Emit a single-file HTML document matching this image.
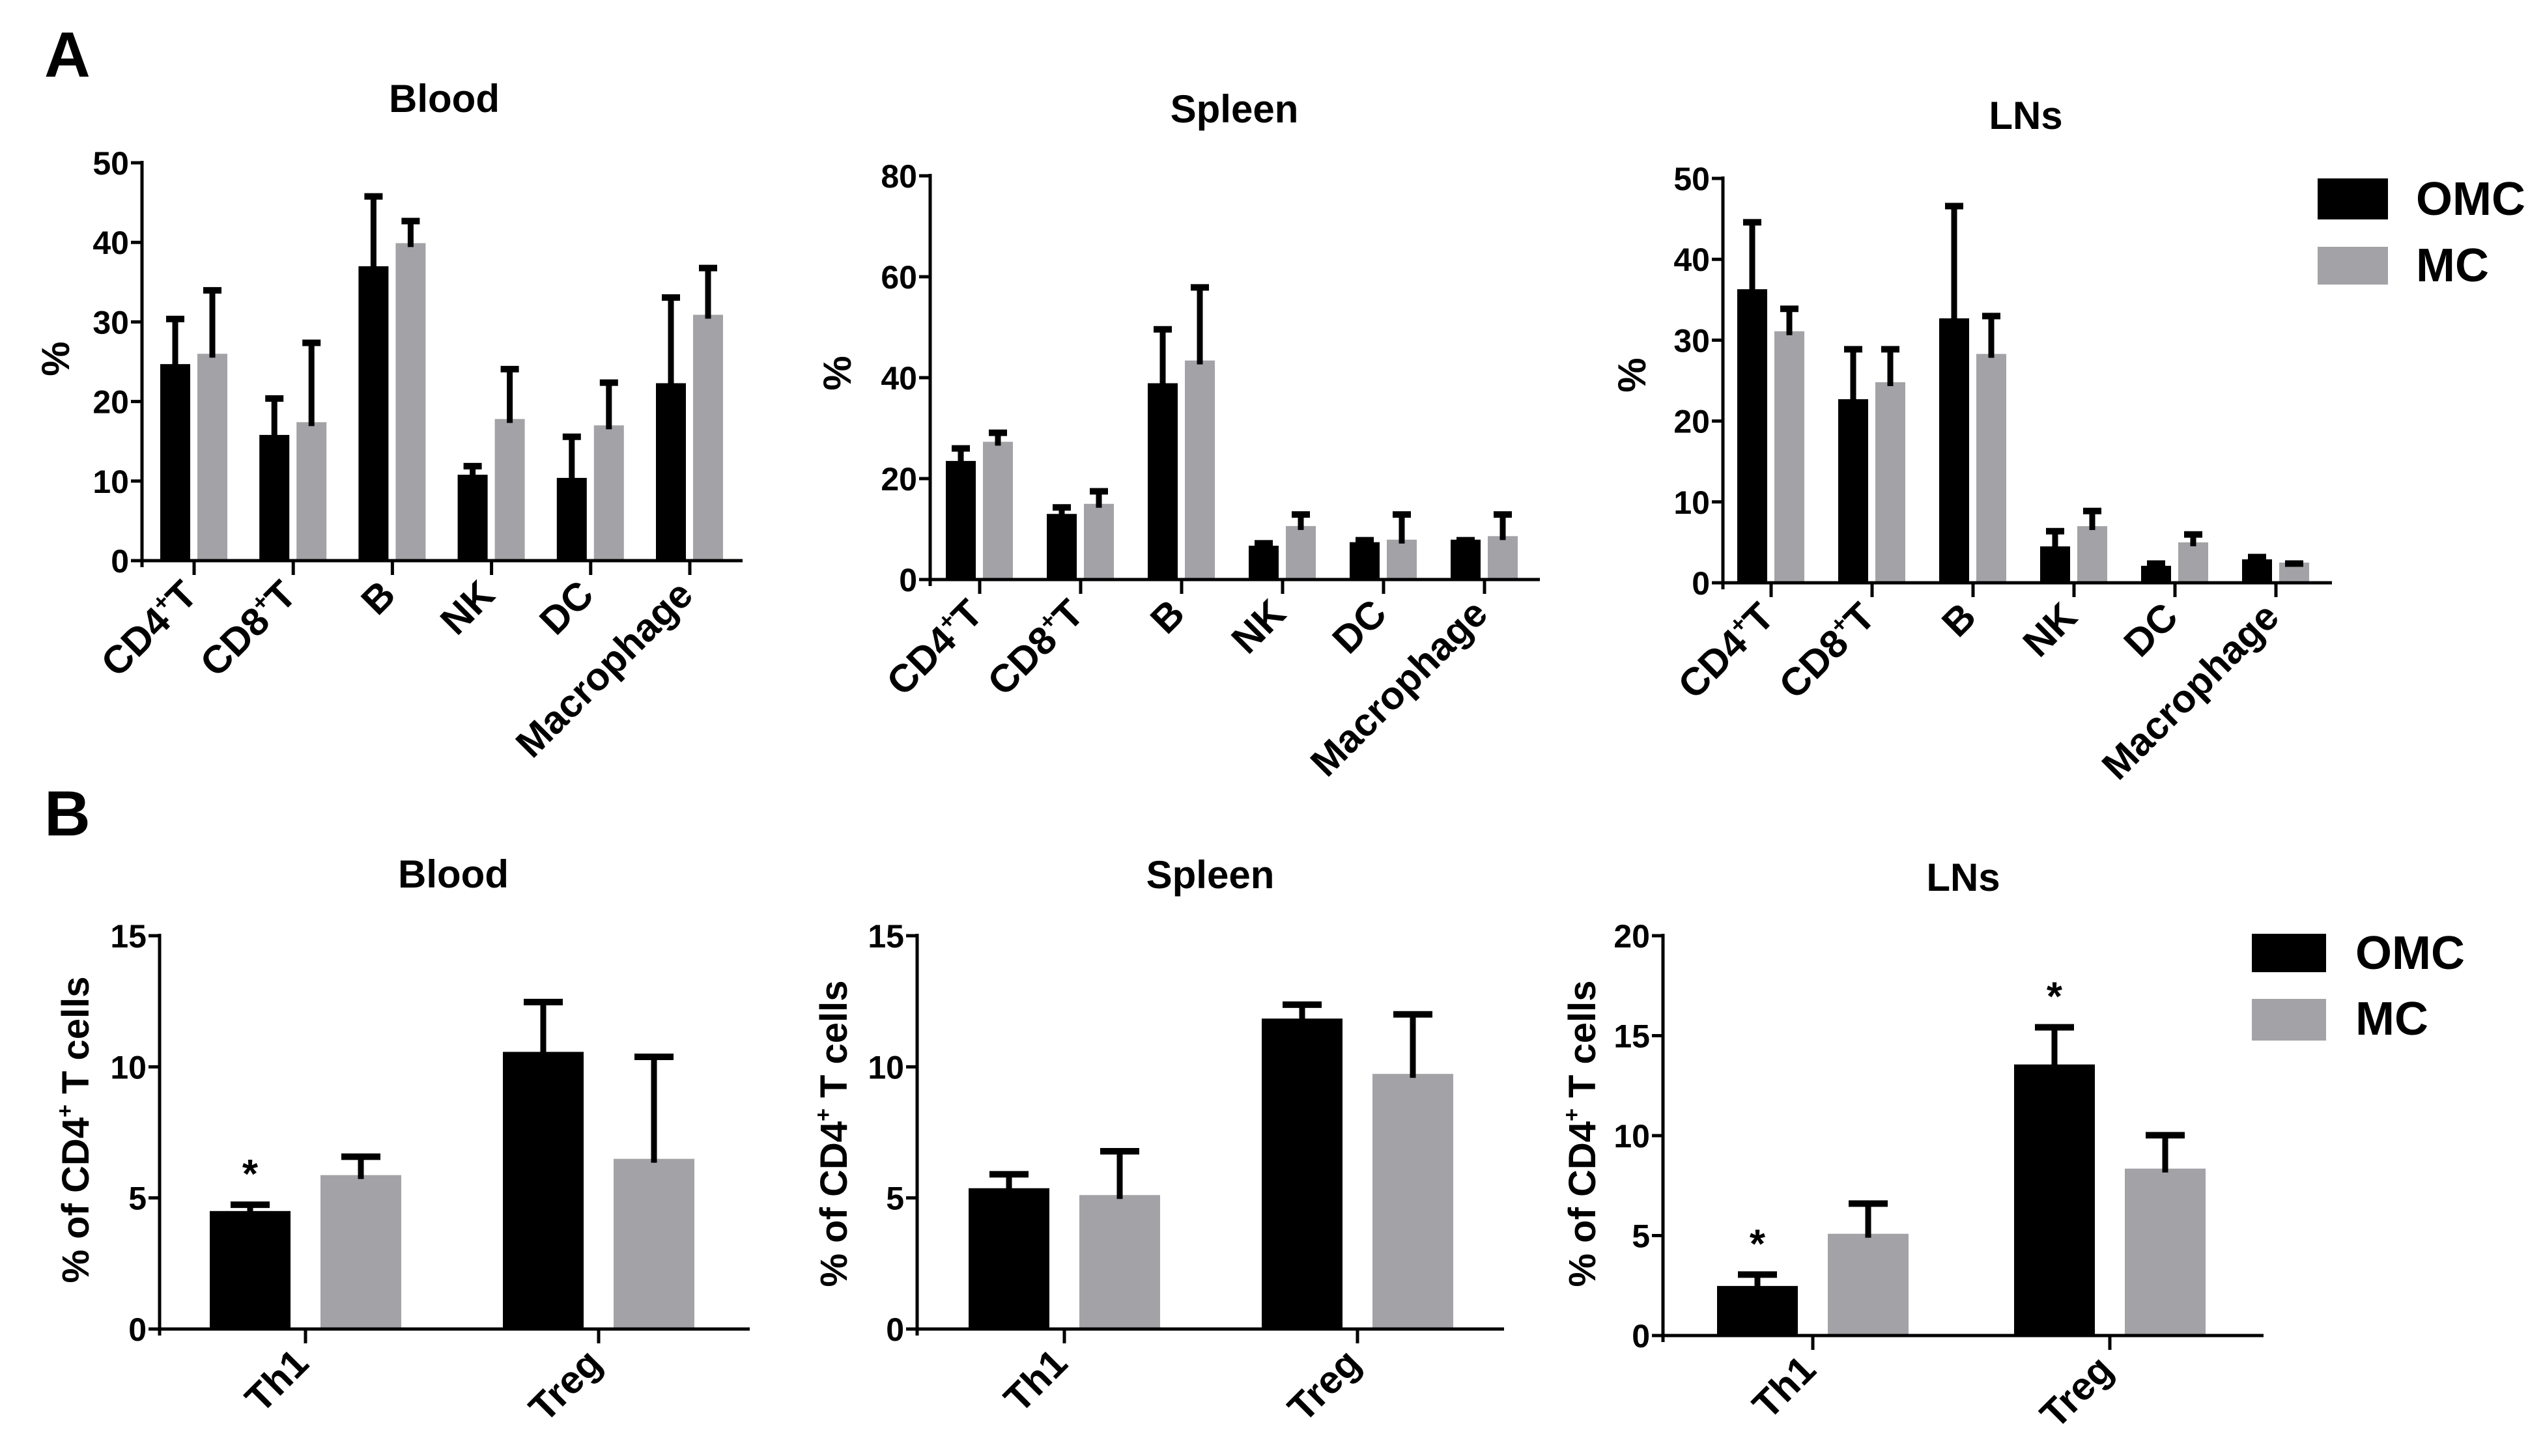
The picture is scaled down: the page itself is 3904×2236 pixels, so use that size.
<!DOCTYPE html>
<html><head><meta charset="utf-8">
<style>
html,body{margin:0;padding:0;background:#fff;}
svg{display:block;font-family:"Liberation Sans",Arial,sans-serif;}
</style></head>
<body>
<svg id="fig" width="3904" height="2236" viewBox="0 0 3904 2236" xmlns="http://www.w3.org/2000/svg">
<rect width="3904" height="2236" fill="#fff"/>
<text x="68" y="118" font-size="98" font-weight="bold">A</text>
<text x="68" y="1283" font-size="98" font-weight="bold">B</text>
<g>
<rect x="3558" y="274" width="108" height="63" fill="#000"/>
<rect x="3558" y="379" width="108" height="58" fill="#a3a3a7"/>
<text x="3709" y="330" font-size="72" font-weight="bold">OMC</text>
<text x="3709" y="432" font-size="72" font-weight="bold">MC</text>
</g>
<g>
<rect x="3457" y="1434" width="114" height="59" fill="#000"/>
<rect x="3457" y="1534" width="114" height="64" fill="#a3a3a7"/>
<text x="3616" y="1488" font-size="72" font-weight="bold">OMC</text>
<text x="3616" y="1589" font-size="72" font-weight="bold">MC</text>
</g>
</svg>
<script>
// ---- data ----
const cellCats = ["CD4+T","CD8+T","B","NK","DC","Macrophage"];
const tCats = ["Th1","Treg"];
const aBloodOMC = [24.7,15.8,37.0,10.8,10.4,22.3];
const aBloodOMCErr = [30.7,20.7,46.1,12.2,15.9,33.4];
const aBloodMC = [26.0,17.4,39.9,17.8,17.0,30.9];
const aBloodMCErr = [34.3,27.7,43.0,24.4,22.7,37.1];
const aSpleenOMC = [23.5,13.0,38.9,6.7,7.4,7.9];
const aSpleenOMCErr = [26.5,14.8,50.1,7.7,8.3,8.3];
const aSpleenMC = [27.3,15.0,43.4,10.6,7.9,8.6];
const aSpleenMCErr = [29.6,18.0,58.4,13.4,13.4,13.4];
const aLNsOMC = [36.3,22.7,32.7,4.5,2.1,2.9];
const aLNsOMCErr = [44.9,29.2,46.9,6.7,2.7,3.5];
const aLNsMC = [31.1,24.8,28.3,7.0,5.0,2.5];
const aLNsMCErr = [34.2,29.2,33.3,9.2,6.3,2.7];
const bBloodOMC = [4.5,10.57];
const bBloodOMCErr = [4.84,12.57];
const bBloodMC = [5.87,6.49];
const bBloodMCErr = [6.67,10.48];
const bSpleenOMC = [5.37,11.84];
const bSpleenOMCErr = [6.0,12.47];
const bSpleenMC = [5.11,9.73];
const bSpleenMCErr = [6.88,12.1];
const bLNsOMC = [2.48,13.56];
const bLNsOMCErr = [3.18,15.55];
const bLNsMC = [5.09,8.35];
const bLNsMCErr = [6.73,10.15];
const ticksA50 = [0,10,20,30,40,50];
const ticksA80 = [0,20,40,60,80];
const ticks15 = [0,5,10,15];
const ticks20 = [0,5,10,15,20];
const bBloodStars = [true,false];
const bSpleenStars = [false,false];
const bLNsStars = [true,true];

const NS="http://www.w3.org/2000/svg";
const svg=document.getElementById('fig');
function mk(tag,attrs,parent){const e=document.createElementNS(NS,tag);for(const k in attrs)e.setAttribute(k,attrs[k]);(parent||svg).appendChild(e);return e;}

function panel(p){
  const g=mk('g',{});
  
  
  const yMax=p.ticks[p.ticks.length-1];
  const ys=v=>p.y0-(v/yMax)*(p.y0-p.yTop);
  const n=p.cats.length;
  const xs=i=>p.firstTick+i*(p.lastTick-p.firstTick)/(n-1);
  const t=mk('text',{x:p.titleX,y:p.titleY,'font-size':60,'font-weight':'bold','text-anchor':'middle'},g);
  t.textContent=p.title;
  
  
  const series=[[p.omc,p.omcErr,'#000',p.bOff0,'omc'],[p.mc,p.mcErr,'#a3a3a7',p.bOff1,'mc']];
  series.forEach(s=>{
    s[0].forEach((v,i)=>{
      const cx=xs(i);
      const r=mk('rect',{x:cx+s[3],y:ys(v),width:p.bw,height:p.y0-ys(v),fill:s[2]},g);
      
      
      const mid=cx+s[3]+p.bw/2;
      const e=s[1][i];
      const l=mk('line',{x1:mid,x2:mid,y1:ys(v)+6,y2:ys(e),stroke:'#000','stroke-width':9},g);
      
      
      const c=mk('line',{x1:mid-p.cap/2,x2:mid+p.cap/2,y1:ys(e)+4,y2:ys(e)+4,stroke:'#000','stroke-width':10},g);
      
      
    });
  });
  if(p.stars){p.stars.forEach((st,i)=>{ if(!st) return;
    const mid=xs(i)+p.bOff0+p.bw/2;
    const s=mk('text',{x:mid,y:ys(p.omcErr[i])-22,'font-size':62,'font-weight':'bold','text-anchor':'middle'},g);
    s.textContent='*';
    
    
  });}
  const ya=mk('line',{x1:p.ax,x2:p.ax,y1:p.yTop-3,y2:p.y0+10,stroke:'#000','stroke-width':5},g);
  
  
  const xa=mk('line',{x1:p.ax-17,x2:p.xEnd,y1:p.y0,y2:p.y0,stroke:'#000','stroke-width':5},g);
  
  
  p.ticks.forEach(tv=>{
    const y=ys(tv);
    const tl=mk('line',{x1:p.ax-17,x2:p.ax,y1:y,y2:y,stroke:'#000','stroke-width':5},g);
    
    
    const tx=mk('text',{x:p.ax-20,y:y+18,'font-size':50,'font-weight':'bold','text-anchor':'end'},g);
    tx.textContent=tv;
    
    
  });
  p.cats.forEach((c,i)=>{
    const x=xs(i);
    const tl=mk('line',{x1:x,x2:x,y1:p.y0,y2:p.y0+22,stroke:'#000','stroke-width':5},g);
    
    
    const lx=x+8, ly=p.y0+56;
    const tx=mk('text',{x:lx,y:ly,'font-size':p.catFont,'font-weight':'bold','text-anchor':'end',transform:`rotate(-45 ${lx} ${ly})`},g);
    
    
    if(c.indexOf('+')>0){
      const parts=c.split('+');
      tx.appendChild(document.createTextNode(parts[0]));
      const sp=mk('tspan',{'font-size':p.catFont*0.6,dy:-p.catFont*0.4},tx);
      sp.textContent='+';
      const sp2=mk('tspan',{dy:p.catFont*0.4},tx);
      sp2.textContent=parts[1];
    } else tx.textContent=c;
  });
  const yl=mk('text',{x:p.ylx,y:p.yly,'font-size':p.ylFont,'font-weight':'bold','text-anchor':'middle',transform:`rotate(-90 ${p.ylx} ${p.yly})`},g);
  
  
  if(p.ylabel==='%'){yl.textContent='%';}
  else{
    yl.appendChild(document.createTextNode('% of CD4'));
    const sp=mk('tspan',{'font-size':34,dy:-25},yl); sp.textContent='+';
    const sp2=mk('tspan',{dy:25},yl); sp2.textContent=' T cells';
  }
}

const A={bw:46,bOff0:-52,bOff1:5,cap:28,catFont:60,ylFont:60,ylabel:'%',cats:cellCats};
panel(Object.assign({},A,{name:'chart-a-blood',title:'Blood',titleX:682,titleY:172,ax:218,yTop:250,y0:861,firstTick:298,lastTick:1059,xEnd:1140,ticks:ticksA50,omc:aBloodOMC,omcErr:aBloodOMCErr,mc:aBloodMC,mcErr:aBloodMCErr,ylx:106,yly:551}));
panel(Object.assign({},A,{name:'chart-a-spleen',title:'Spleen',titleX:1895,titleY:188,ax:1428,yTop:270,y0:890,firstTick:1504,lastTick:2279,xEnd:2364,ticks:ticksA80,omc:aSpleenOMC,omcErr:aSpleenOMCErr,mc:aSpleenMC,mcErr:aSpleenMCErr,ylx:1306,yly:573}));
panel(Object.assign({},A,{name:'chart-a-lns',title:'LNs',titleX:3110,titleY:198,ax:2645,yTop:274,y0:895,firstTick:2719,lastTick:3494,xEnd:3580,ticks:ticksA50,omc:aLNsOMC,omcErr:aLNsOMCErr,mc:aLNsMC,mcErr:aLNsMCErr,ylx:2526,yly:576}));
const B={bw:124,bOff0:-147,bOff1:23,cap:60,catFont:60,ylFont:58,ylabel:'cd4',cats:tCats};
panel(Object.assign({},B,{name:'chart-b-blood',title:'Blood',titleX:696,titleY:1363,ax:245,yTop:1437,y0:2041,firstTick:469,lastTick:919,xEnd:1151,ticks:ticks15,omc:bBloodOMC,omcErr:bBloodOMCErr,mc:bBloodMC,mcErr:bBloodMCErr,stars:bBloodStars,ylx:136,yly:1735}));
panel(Object.assign({},B,{name:'chart-b-spleen',title:'Spleen',titleX:1858,titleY:1364,ax:1408,yTop:1437,y0:2041,firstTick:1634,lastTick:2084,xEnd:2309,ticks:ticks15,omc:bSpleenOMC,omcErr:bSpleenOMCErr,mc:bSpleenMC,mcErr:bSpleenMCErr,stars:bSpleenStars,ylx:1300,yly:1741}));
panel(Object.assign({},B,{name:'chart-b-lns',title:'LNs',titleX:3014,titleY:1368,ax:2553,yTop:1437,y0:2051,firstTick:2783,lastTick:3239,xEnd:3475,ticks:ticks20,omc:bLNsOMC,omcErr:bLNsOMCErr,mc:bLNsMC,mcErr:bLNsMCErr,stars:bLNsStars,ylx:2449,yly:1741}));
</script>
</body></html>
